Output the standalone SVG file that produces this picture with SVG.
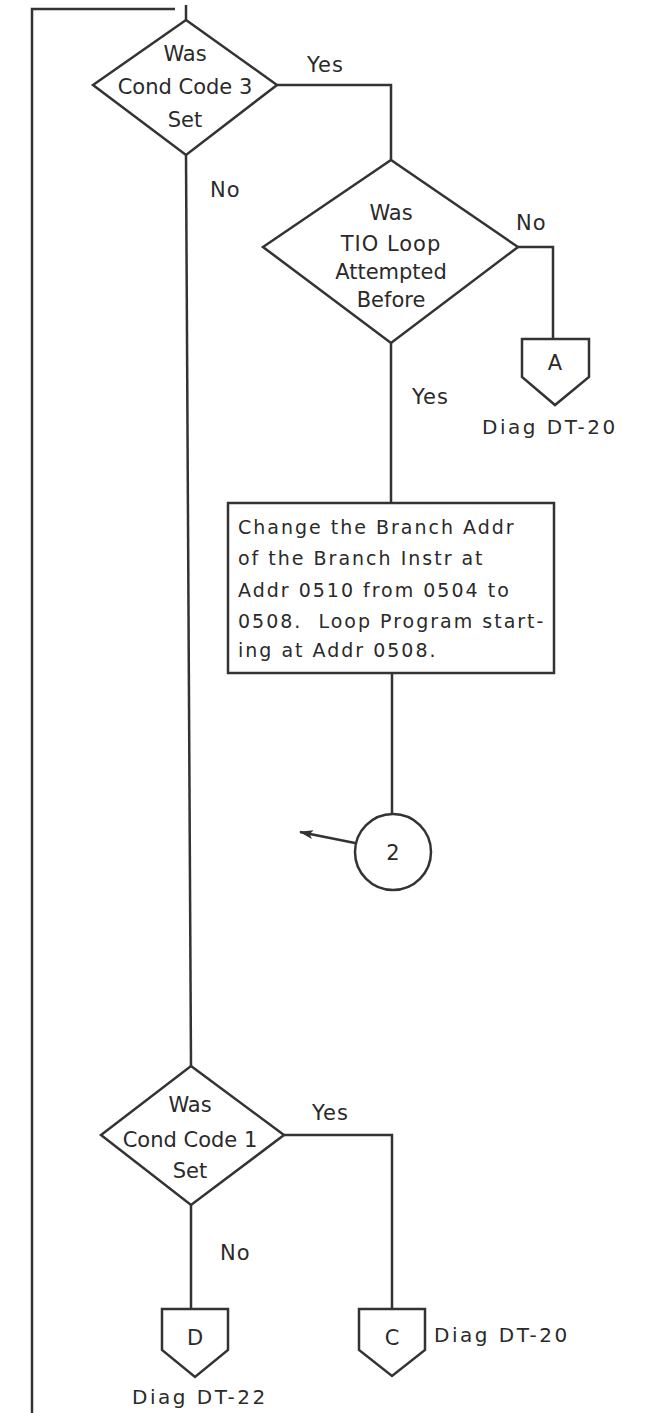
<svg xmlns="http://www.w3.org/2000/svg" width="655" height="1413" viewBox="0 0 655 1413">
<style>
.ln{fill:none;stroke:#333;stroke-width:2.5;stroke-linejoin:miter}
.sh{fill:#fff;stroke:#333;stroke-width:2.5}
text{font-family:"DejaVu Sans","Liberation Sans",sans-serif;fill:#2a2a2a;font-size:21px}
.c{text-anchor:middle}
.d{font-size:20px;letter-spacing:2.5px}
.lb{font-size:21px;letter-spacing:1px}
.bx{font-size:19px;letter-spacing:2px;white-space:pre}
</style>
<defs>
<marker id="ah" viewBox="0 0 14 10" refX="13" refY="5" markerWidth="14" markerHeight="10" orient="auto" markerUnits="userSpaceOnUse">
<path d="M0,0.5 L14,5 L0,9.5 L3,5 Z" fill="#333"/>
</marker>
</defs>
<rect width="655" height="1413" fill="#fff"/>
<g id="connectors">
<path class="ln" d="M32,1413 V9 H175"/>
<path class="ln" d="M186,5 V20"/>
<path class="ln" d="M277,85 H391 V160"/>
<path class="ln" d="M186,155 L191,1066"/>
<path class="ln" d="M518,247 H553 V339"/>
<path class="ln" d="M391,343 V503"/>
<path class="ln" d="M392,673 V813"/>
<path class="ln" d="M355,843 L300,832" marker-end="url(#ah)"/>
<path class="ln" d="M284,1135 H392 V1309"/>
<path class="ln" d="M191,1205 V1309"/>
<text class="lb" x="307" y="72">Yes</text>
<text class="lb" x="210" y="197">No</text>
<text class="lb" x="516" y="230">No</text>
<text class="lb" x="412" y="404">Yes</text>
<text class="lb" x="312" y="1120">Yes</text>
<text class="lb" x="220" y="1260">No</text>
</g>
<g id="d1">
<polygon class="sh" points="186,20 277,85 186,155 93,85"/>
<text class="c" x="185" y="61">Was</text>
<text class="c" x="185" y="94">Cond Code 3</text>
<text class="c" x="185" y="127">Set</text>
</g>
<g id="d2">
<polygon class="sh" points="391,160 518,247 391,343 263,247"/>
<text class="c" x="391" y="220">Was</text>
<text class="c" x="391" y="251" style="letter-spacing:1px">TIO Loop</text>
<text class="c" x="391" y="279">Attempted</text>
<text class="c" x="391" y="307">Before</text>
</g>
<g id="offA">
<path class="sh" d="M522,339 H589 V377 L555,405 L522,377 Z"/>
<text class="c" x="555" y="370">A</text>
<text class="d" x="482" y="434">Diag DT-20</text>
</g>
<g id="box">
<rect class="sh" x="228" y="503" width="326" height="170"/>
<text class="bx" x="238" y="534">Change the Branch Addr</text>
<text class="bx" x="238" y="565">of the Branch Instr at</text>
<text class="bx" x="238" y="597">Addr 0510 from 0504 to</text>
<text class="bx" x="238" y="628">0508.  Loop Program start-</text>
<text class="bx" x="238" y="657">ing at Addr 0508.</text>
</g>
<g id="c2">
<circle class="sh" cx="393" cy="852" r="38"/>
<text class="c" x="393" y="860">2</text>
</g>
<g id="d3">
<polygon class="sh" points="191,1066 284,1135 191,1205 101,1135"/>
<text class="c" x="190" y="1112">Was</text>
<text class="c" x="190" y="1147">Cond Code 1</text>
<text class="c" x="190" y="1178">Set</text>
</g>
<g id="offD">
<path class="sh" d="M162,1309 H228 V1350 L195,1377 L162,1350 Z"/>
<text class="c" x="195" y="1345">D</text>
<text class="d" x="132" y="1404">Diag DT-22</text>
</g>
<g id="offC">
<path class="sh" d="M359,1309 H425 V1350 L392,1376 L359,1350 Z"/>
<text class="c" x="392" y="1345">C</text>
<text class="d" x="434" y="1342">Diag DT-20</text>
</g>
</svg>
